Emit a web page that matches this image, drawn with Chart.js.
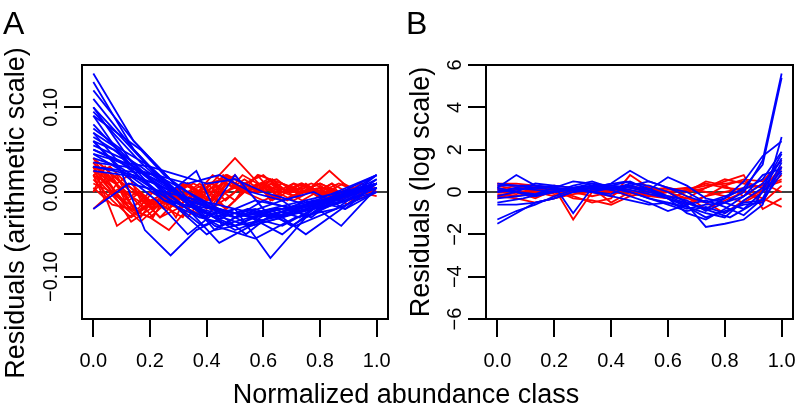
<!DOCTYPE html>
<html>
<head>
<meta charset="utf-8">
<script src="https://cdn.jsdelivr.net/npm/chart.js@4.4.1/dist/chart.umd.min.js"></script>
<style>
  html, body { margin: 0; padding: 0; background: #ffffff; }
  #wrap { position: relative; width: 796px; height: 412px; }
  canvas { position: absolute; left: 0; top: 0; }
</style>
</head>
<body>
<div id="wrap">
  <canvas id="chartA" width="796" height="412"></canvas>
  <canvas id="chartB" width="796" height="412"></canvas>
</div>
<script>
// ---------- tick definitions ----------
const xTicks = [0, 0.2, 0.4, 0.6, 0.8, 1.0];
const xTickLabels = ['0.0', '0.2', '0.4', '0.6', '0.8', '1.0'];
const yTicksA = [-0.10, -0.05, 0, 0.05, 0.10];
const yTickLabelsA = ['\u22120.10', '', '0.00', '', '0.10'];
const yTicksB = [-6, -4, -2, 0, 2, 4, 6];
const yTickLabelsB = ['\u22126', '\u22124', '\u22122', '0', '2', '4', '6'];

// ---------- Panel A: residuals (arithmetic scale), one list per curve ----------
const panelA_blue = [
  [0.14, 0.06, 0.01, -0.02, -0.03, -0.02, -0.01, 0.01],
  [0.13, 0.05, 0.0, -0.03, -0.01, -0.02, 0.0, 0.02],
  [0.10, 0.04, 0.0, -0.03, -0.02, -0.078, -0.03, -0.01, 0.01],
  [0.09, 0.03, -0.01, -0.02, -0.03, -0.02, -0.01, -0.04, 0.005],
  [0.06, 0.03, -0.045, -0.075, -0.045, -0.03, -0.02, -0.03, -0.02, -0.01, 0.0, 0.01],
  [0.08, 0.04, 0.0, -0.02, -0.04, -0.03, -0.05, -0.02, 0.0, 0.01],
  [0.07, 0.05, 0.02, 0.0, 0.025, -0.04, -0.02, -0.03, -0.02, -0.01, 0.0, 0.015],
  [0.065, 0.03, -0.01, -0.03, -0.02, -0.01, 0.01],
  [0.06, 0.02, -0.01, -0.05, -0.02, -0.03, -0.04, -0.02, -0.01, 0.0],
  [0.055, 0.04, 0.015, -0.02, -0.05, -0.03, -0.01, -0.02, -0.01, 0.0, 0.01],
  [0.05, 0.03, 0.0, -0.04, -0.055, -0.03, -0.02, 0.015],
  [0.045, 0.02, -0.01, -0.03, -0.04, -0.02, -0.05, -0.02, 0.01],
  [0.04, 0.03, 0.01, -0.01, -0.02, -0.03, -0.04, -0.02, -0.03, -0.01, 0.0, 0.01],
  [0.035, 0.03, 0.02, 0.0, -0.02, -0.03, -0.02, -0.01, -0.01, 0.005],
  [0.03, 0.02, 0.0, -0.02, -0.03, -0.02, -0.01, 0.02],
  [-0.02, 0.01, 0.0, -0.01, -0.02, -0.03, -0.01, 0.0, 0.01],
  [0.06, 0.05, 0.03, 0.01, 0.0, -0.02, -0.03, -0.04, -0.03, -0.02, -0.02, -0.01, -0.01, 0.0, 0.01],
  [0.095, 0.035, -0.015, -0.025, -0.03, -0.01, 0.005],
  [0.12, 0.06, 0.01, -0.045, -0.035, -0.025, -0.01, 0.01],
  [0.075, 0.05, 0.03, 0.0, -0.03, 0.02, -0.02, -0.04, -0.02, -0.01, 0.005],
  [0.05, 0.03, 0.01, -0.02, -0.045, -0.03, -0.02, 0.0, 0.02],
  [0.025, 0.02, 0.01, -0.02, -0.06, -0.04, -0.03, -0.01, -0.02, 0.0],
  [0.09, 0.07, 0.05, 0.02, 0.0, -0.02, -0.03, -0.02, -0.01, -0.03, -0.01, 0.0, 0.01],
  [0.11, 0.05, 0.0, -0.03, -0.02, -0.04, -0.02, 0.0],
  [0.10, 0.06, 0.02, -0.01, -0.02, -0.04, -0.03, -0.02, -0.01, 0.01],
  [0.07, 0.04, 0.02, 0.0, -0.02, -0.04, -0.03, -0.05, -0.03, -0.02, -0.03, -0.01, 0.0, 0.02],
  [0.045, 0.035, 0.03, 0.02, 0.01, 0.015, 0.0, -0.01, -0.02, 0.0, 0.01],
  [0.03, 0.025, 0.02, 0.01, 0.02, 0.0, -0.01, 0.0, -0.02, 0.01]
];
const panelA_red = [
  [0.04, 0.02, 0.0, -0.01, 0.0, 0.01, -0.01, 0.0, 0.01, 0.0, -0.01, 0.0, 0.01, 0.0, 0.0, 0.005],
  [0.03, -0.04, -0.02, 0.0, -0.02, 0.01, 0.04, 0.01, 0.0, 0.005, -0.005, 0.0, 0.005],
  [0.02, -0.01, -0.035, -0.01, 0.01, -0.02, 0.0, 0.02, 0.01, 0.0, 0.025, 0.0, 0.0],
  [0.025, 0.0, -0.02, -0.03, -0.01, 0.0, -0.02, 0.01, 0.0, -0.01, 0.0, 0.01, 0.0, -0.005, 0.0, 0.0],
  [0.035, 0.01, -0.01, -0.02, 0.0, -0.01, 0.01, 0.0, 0.02, 0.01, 0.0, 0.01, -0.01, 0.0, 0.01, 0.0, -0.01, 0.0, 0.005, 0.0],
  [-0.02, 0.0, 0.01, -0.01, -0.02, 0.0, 0.01, 0.015, 0.0, 0.01, -0.01, 0.0, 0.005, 0.0, 0.0, 0.01],
  [0.03, 0.02, 0.0, -0.025, -0.01, -0.02, -0.03, 0.0, 0.01, 0.02, 0.01, 0.0, 0.01, 0.0, -0.01, 0.0, 0.01, -0.015, 0.0, 0.005],
  [0.02, 0.03, 0.01, -0.01, -0.03, -0.02, 0.0, -0.01, 0.02, 0.0, 0.01, 0.015, 0.0, 0.0, -0.01, 0.0, 0.0, 0.01],
  [0.01, 0.0, -0.02, -0.03, -0.045, -0.02, 0.0, -0.02, 0.0, 0.01, 0.0, 0.0, 0.01, 0.0, 0.005, 0.0],
  [0.04, 0.025, 0.01, 0.0, -0.015, 0.0, -0.01, 0.0, 0.01, 0.0, 0.02, 0.01, 0.0, -0.01, 0.0, 0.0, 0.01, 0.0, 0.0, 0.0],
  [0.015, -0.01, -0.03, -0.015, 0.0, -0.02, -0.03, 0.0, 0.015, 0.0, -0.01, 0.0, 0.0, 0.01, 0.0, -0.005],
  [0.035, 0.015, 0.0, -0.02, -0.01, 0.0, 0.01, 0.0, -0.02, 0.0, 0.01, 0.0, 0.01, 0.005, 0.0, 0.0, 0.005, 0.0],
  [0.0, 0.02, 0.0, -0.01, -0.03, 0.0, -0.01, -0.02, 0.0, 0.015, 0.0, 0.02, 0.0, 0.0, 0.01, -0.005, 0.0, 0.0, 0.005, 0.0],
  [0.03, 0.0, -0.035, -0.02, 0.0, -0.01, 0.01, -0.01, 0.01, 0.02, 0.0, 0.01, 0.0, 0.0, 0.0, 0.005],
  [0.025, 0.01, -0.025, -0.01, -0.02, 0.0, 0.01, 0.0, 0.015, 0.0, 0.01, 0.0, -0.01, 0.0],
  [0.02, 0.01, -0.01, 0.0, -0.02, -0.01, 0.01, 0.0, -0.01, 0.01, 0.0, 0.0, 0.015, 0.0, 0.0, 0.0, -0.01, 0.0, 0.01, 0.0],
  [0.04, 0.01, -0.02, -0.01, -0.03, -0.01, 0.0, -0.02, 0.01, 0.0, 0.005, 0.0, -0.01, 0.0, 0.0, 0.01, 0.0, 0.005],
  [0.005, -0.015, -0.02, 0.0, -0.01, -0.03, 0.0, 0.02, 0.01, 0.0, 0.01, 0.0, 0.0, -0.01, 0.0, 0.0],
  [0.03, 0.01, 0.02, -0.01, 0.0, -0.02, -0.01, -0.03, 0.0, 0.01, 0.0, 0.02, 0.01, 0.0, 0.01, -0.01, 0.0, 0.01, 0.0, 0.0, -0.01, 0.0, 0.005, 0.0, 0.0],
  [0.0, 0.03, 0.01, 0.02, -0.01, -0.02, 0.0, -0.01, 0.01, 0.0, -0.01, 0.01, 0.02, 0.0, 0.0, 0.01, 0.0, -0.005, 0.0, 0.01, 0.0, 0.0, 0.0, 0.005, 0.0],
  [0.02, -0.01, 0.01, -0.02, -0.03, -0.01, -0.02, 0.0, 0.01, 0.0, 0.01, 0.0, -0.01, 0.01, 0.0, 0.015, 0.0, 0.0, 0.01, 0.0, -0.01, 0.0, 0.0, 0.0, 0.005]
];

// ---------- Panel B: residuals (log scale) ----------
const panelB_blue = [
  [-1.5, -1.0, -0.5, -0.3, 0.0, 0.1, 0.2, 0.3, 0.1, -0.2, -0.4, -0.9, -0.5, 0.0, 1.5, 5.6],
  [-1.3, -0.9, -0.6, -0.2, 0.1, 0.2, 0.1, 0.4, 0.3, 0.0, -0.5, -0.8, -0.3, 0.2, 1.3, 5.4],
  [-0.6, -0.6, -0.5, -0.3, 0.0, 0.2, 0.3, 0.5, 0.1, -0.3, -0.6, -1.65, -1.5, -1.3, -0.6, 2.6],
  [0.2, 0.8, 0.3, 0.2, 0.1, 0.2, 0.4, 1.0, 0.5, 0.2, 0.0, -0.5, -0.3, 0.5, 1.7, 2.4],
  [0.0, 0.1, 0.2, 0.3, -1.0, 0.2, 0.3, 0.2, 0.0, -0.3, -0.7, -1.0, -1.2, -0.4, 0.2, 1.8],
  [0.3, 0.3, 0.2, 0.1, 0.2, 0.3, 0.2, 0.0, -0.3, -0.5, -0.8, -0.6, -0.5, -0.2, 0.4, 1.5],
  [-0.2, 0.0, 0.4, 0.3, 0.2, 0.0, -0.2, -0.4, -0.6, -0.5, -0.7, -1.2, -0.9, -0.6, -0.5, 1.2],
  [0.1, 0.0, -0.1, 0.2, 0.5, 0.4, 0.3, 0.2, 0.1, 0.7, 0.3, -0.3, -0.5, -0.8, 0.0, 1.0],
  [-0.3, -0.2, -0.1, 0.0, 0.2, 0.4, 0.1, -0.2, -0.5, -0.9, -0.6, -0.4, -0.7, -1.1, -0.3, 1.4],
  [0.4, 0.3, 0.3, 0.2, 0.1, 0.0, -0.1, 0.3, 0.5, 0.2, -0.2, -0.5, -0.2, 0.1, 0.6, 1.9],
  [0.0, 0.2, 0.1, 0.0, 0.3, 0.5, 0.2, 0.1, -0.1, -0.3, -1.0, -1.3, -0.8, -0.2, 0.8, 1.1],
  [0.2, 0.0, -0.2, 0.0, 0.1, 0.0, 0.2, 0.0, -0.3, -0.6, -0.9, -0.7, -1.0, -0.5, -0.4, 0.9],
  [-0.5, -0.3, 0.0, 0.2, 0.3, 0.5, 0.1, -0.4, -0.8, -1.2, -0.5, 1.6]
];
const panelB_red = [
  [0.4, 0.4, 0.3, 0.2, -1.3, 0.0, 0.1, 0.0, -0.2, 0.0, 0.1, 0.3, 0.4, 0.5, 0.2, 0.5],
  [0.0, 0.2, 0.3, 0.0, -0.2, -0.5, -0.3, 0.8, 0.2, 0.0, -0.3, 0.2, 0.5, 0.8, -0.8, -0.3],
  [-0.3, 0.0, -0.3, 0.1, 0.0, 0.2, -0.5, 0.0, 0.3, 0.0, -0.5, -0.2, 0.3, 0.6, 0.5, 1.5],
  [0.3, 0.1, -0.2, 0.0, 0.2, 0.0, 0.1, -0.2, 0.0, 0.2, -0.2, -0.8, -0.4, 0.0, -0.3, -0.7],
  [-0.2, -0.3, -0.5, -0.3, -0.1, 0.0, 0.2, 0.0, -0.1, -0.3, -0.6, -0.2, 0.0, 0.2, 0.3, 1.0],
  [0.2, 0.0, 0.1, 0.3, 0.2, 0.0, -0.2, 0.3, 0.1, 0.2, 0.0, 0.5, 0.3, -0.2, 0.4, 0.0],
  [0.1, 0.3, 0.2, -0.1, 0.0, 0.1, 0.0, 0.3, 0.0, -0.2, -0.3, -0.5, -1.0, -0.4, 0.1, 1.2],
  [-0.1, -0.2, 0.0, 0.1, -0.3, -0.4, -0.6, -0.2, 0.0, 0.1, 0.2, 0.0, -0.2, -0.5, 0.0, 0.8],
  [0.4, 0.3, 0.0, -0.2, 0.1, 0.2, 0.0, -0.1, 0.2, 0.0, 0.1, 0.4, 0.2, 0.1, -0.5, 0.3],
  [0.0, -0.1, 0.1, 0.2, 0.0, -0.2, 0.0, 0.1, -0.2, -0.3, 0.0, 0.2, 0.6, 0.4, 0.2, 0.6]
];

const FONT = '"Liberation Sans", Arial, Helvetica, sans-serif';
const BLUE = '#0000ff';
const RED = '#ff0000';

// each curve: values at normalized abundance classes k/(n-1)
function toPoints(ys) {
  const n = ys.length;
  return ys.map((y, i) => ({ x: i / (n - 1), y: y }));
}
function makeDatasets(blue, red) {
  const ds = [];
  blue.forEach(c => ds.push({ data: toPoints(c), borderColor: BLUE }));
  red.forEach(c => ds.push({ data: toPoints(c), borderColor: RED }));
  ds.forEach(d => {
    d.showLine = true; d.pointRadius = 0; d.borderWidth = 1.8;
    d.fill = false; d.tension = 0; d.pointHoverRadius = 0;
  });
  return ds;
}

function panelPlugin(cfg) {
  return {
    id: 'panel' + cfg.letter,
    beforeDatasetsDraw(chart) {
      const ctx = chart.ctx, a = chart.chartArea;
      const y0 = chart.scales.y.getPixelForValue(0);
      ctx.save();
      ctx.strokeStyle = '#000'; ctx.lineWidth = 1.6;
      ctx.beginPath(); ctx.moveTo(a.left, y0); ctx.lineTo(a.right, y0); ctx.stroke();
      ctx.restore();
    },
    afterDraw(chart) {
      const ctx = chart.ctx, a = chart.chartArea;
      const xs = chart.scales.x, ys = chart.scales.y;
      ctx.save();
      ctx.strokeStyle = '#000'; ctx.lineWidth = 2;
      ctx.strokeRect(a.left, a.top, a.right - a.left, a.bottom - a.top);
      ctx.fillStyle = '#000';
      ctx.font = '20px ' + FONT;
      ctx.textAlign = 'center'; ctx.textBaseline = 'alphabetic';
      xTicks.forEach((v, i) => ctx.fillText(xTickLabels[i], xs.getPixelForValue(v), 367));
      cfg.yTicks.forEach((v, i) => {
        const lab = cfg.yLabels[i];
        if (!lab) return;
        ctx.save();
        ctx.translate(a.left - 25, ys.getPixelForValue(v));
        ctx.rotate(-Math.PI / 2);
        ctx.fillText(lab, 0, 0);
        ctx.restore();
      });
      ctx.font = '27px ' + FONT;
      ctx.save();
      ctx.translate(cfg.titleX, cfg.titleY);
      ctx.rotate(-Math.PI / 2);
      ctx.textAlign = 'center';
      ctx.fillText(cfg.yTitle, 0, 0);
      ctx.restore();
      ctx.font = '32px ' + FONT;
      ctx.textAlign = 'left';
      ctx.fillText(cfg.letter, cfg.letterX, 34);
      if (cfg.xTitle) {
        ctx.font = '27px ' + FONT;
        ctx.textAlign = 'center';
        ctx.fillText(cfg.xTitle, 406, 403);
      }
      ctx.restore();
    }
  };
}

function makeChart(id, blue, red, cfg) {
  return new Chart(document.getElementById(id), {
    type: 'scatter',
    data: { datasets: makeDatasets(blue, red) },
    options: {
      responsive: false, animation: false, devicePixelRatio: 1,
      layout: { padding: { left: cfg.padLeft, right: cfg.padRight, top: 65, bottom: 0 } },
      plugins: { legend: { display: false }, tooltip: { enabled: false } },
      events: [],
      scales: {
        x: {
          type: 'linear', min: -0.04, max: 1.04,
          afterBuildTicks: s => { s.ticks = xTicks.map(v => ({ value: v })); },
          afterFit: s => { s.height = 93; },
          ticks: { display: false },
          grid: { display: true, drawOnChartArea: false, drawTicks: true, tickLength: 18, color: '#000', lineWidth: 2 },
          border: { display: false }
        },
        y: {
          type: 'linear', min: cfg.yMin, max: cfg.yMax,
          afterBuildTicks: s => { s.ticks = cfg.yTicks.map(v => ({ value: v })); },
          afterFit: s => { s.width = 82; },
          ticks: { display: false },
          grid: { display: true, drawOnChartArea: false, drawTicks: true, tickLength: 18, color: '#000', lineWidth: 2 },
          border: { display: false }
        }
      }
    },
    plugins: [panelPlugin(cfg)]
  });
}

makeChart('chartA', panelA_blue, panelA_red, {
  letter: 'A', letterX: 3, padLeft: 0, padRight: 408,
  yMin: -0.15, yMax: 0.15, yTicks: yTicksA, yLabels: yTickLabelsA,
  yTitle: 'Residuals (arithmetic scale)', titleX: 24, titleY: 213,
  xTitle: 'Normalized abundance class'
});
makeChart('chartB', panelB_blue, panelB_red, {
  letter: 'B', letterX: 406, padLeft: 404, padRight: 3,
  yMin: -6, yMax: 6, yTicks: yTicksB, yLabels: yTickLabelsB,
  yTitle: 'Residuals (log scale)', titleX: 429, titleY: 192
});
</script>
</body>
</html>
